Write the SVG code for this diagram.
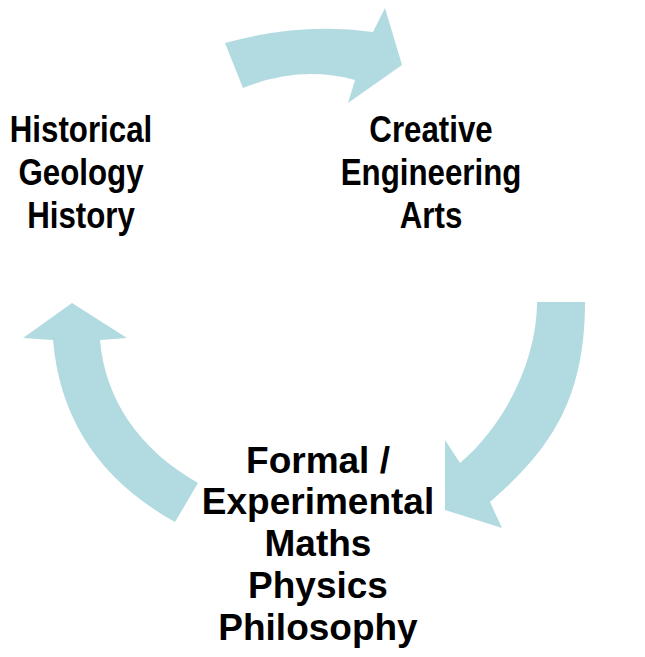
<svg xmlns="http://www.w3.org/2000/svg" width="645" height="657" viewBox="0 0 645 657">
<style>
.arrow{fill:#b1dbe0;stroke:none}
.lbl{font-family:"Liberation Sans",Arial,sans-serif;font-weight:bold;font-size:37px;fill:#000;text-anchor:middle}
</style>
<rect width="645" height="657" fill="#fff"/>
<g id="connectors">
<path class="arrow" d="M225,43 Q300,22 373,32 L385,8 L402,65 L348,103 L355,80 Q300,65 243,88 Z"/>
<path class="arrow" d="M537,302 L585,302 C585,400 550,450 490,502 L502,528 L445,510 L445,440 L460,463 C505,425 537,360 537,302 Z"/>
<path class="arrow" d="M72,303 L127,338 L100,340 C105,400 140,450 198,483 L175,522 C100,480 60,420 53,340 L23,338 Z"/>
</g>
<g id="node-historical" transform="translate(81,0) scale(0.845,1)">
<text class="lbl" x="0" y="142">Historical</text>
<text class="lbl" x="0" y="185">Geology</text>
<text class="lbl" x="0" y="228">History</text>
</g>
<g id="node-creative" transform="translate(431,0) scale(0.845,1)">
<text class="lbl" x="0" y="142">Creative</text>
<text class="lbl" x="0" y="185">Engineering</text>
<text class="lbl" x="0" y="228">Arts</text>
</g>
<g id="node-formal">
<text class="lbl" x="318" y="473">Formal /</text>
<text class="lbl" x="318" y="514">Experimental</text>
<text class="lbl" x="318" y="556">Maths</text>
<text class="lbl" x="318" y="598">Physics</text>
<text class="lbl" x="318" y="640">Philosophy</text>
</g>
</svg>
